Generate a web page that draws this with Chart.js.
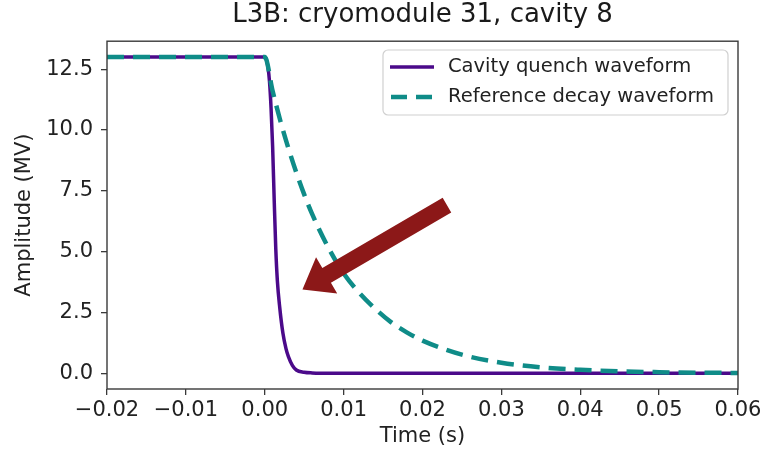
<!DOCTYPE html>
<html>
<head>
<meta charset="utf-8">
<script src="https://cdn.jsdelivr.net/npm/chart.js@4"></script>
<style>
  body { margin: 0; background: #fff; }
  #wrap { width: 766px; height: 450px; }
</style>
</head>
<body>
<div id="wrap"><canvas id="myChart" width="766" height="450"></canvas></div>
<script>
// values
const quenchTime = [-0.02, 0, 0.0002, 0.0004, 0.0006, 0.0008, 0.001, 0.0012, 0.0014, 0.0016, 0.0019, 0.0023, 0.0027, 0.003, 0.0035, 0.004, 0.005, 0.006, 0.007, 0.06];
const quenchAmp  = [13.0, 13.0, 12.9, 12.6, 12.0, 10.9, 9.3, 7.1, 5.1, 3.8, 2.7, 1.65, 1.0, 0.68, 0.32, 0.13, 0.04, 0.01, 0, 0];

const refTime = [-0.02, 0, 0.001, 0.002, 0.003, 0.004, 0.005, 0.006, 0.008, 0.010, 0.012, 0.014, 0.016, 0.018, 0.020, 0.025, 0.030, 0.035, 0.040, 0.045, 0.050, 0.055, 0.060];
const refAmp  = [13.0, 13.0, 11.6, 10.35, 9.25, 8.25, 7.35, 6.55, 5.2, 4.1, 3.3, 2.65, 2.1, 1.68, 1.34, 0.76, 0.43, 0.24, 0.14, 0.08, 0.04, 0.02, 0.01];

const xTicks = [-0.02, -0.01, 0, 0.01, 0.02, 0.03, 0.04, 0.05, 0.06];
const xTickLabels = ['\u22120.02', '\u22120.01', '0.00', '0.01', '0.02', '0.03', '0.04', '0.05', '0.06'];
const yTicks = [0, 2.5, 5, 7.5, 10, 12.5];
const yTickLabels = ['0.0', '2.5', '5.0', '7.5', '10.0', '12.5'];

const seriesNames = ['Cavity quench waveform', 'Reference decay waveform'];
const purple = '#4b0a8a';
const teal = '#0f8c88';
const FONT = 'DejaVu Sans';

const ctx = document.getElementById('myChart').getContext('2d');

// axes frame (all four spines)
const frame = {
  id: 'frame',
  afterDraw(chart) {
    const a = chart.chartArea, c = chart.ctx;
    c.save();
    c.strokeStyle = '#3a3a3a';
    c.lineWidth = 1.4;
    c.strokeRect(a.left, a.top, a.right - a.left, a.bottom - a.top);
    c.restore();
  }
};

// the red block arrow, placed in data coordinates
const arrow = {
  id: 'arrow',
  afterDatasetsDraw(chart) {
    const xs = chart.scales.x, ys = chart.scales.y, c = chart.ctx;
    const tx = xs.getPixelForValue(0.0231), ty = ys.getPixelForValue(6.91);
    const hx = xs.getPixelForValue(0.00478), hy = ys.getPixelForValue(3.44);
    const ang = Math.atan2(hy - ty, hx - tx);
    const len = Math.hypot(hx - tx, hy - ty);
    const shaft = 17, headW = 42, headL = 28;
    c.save();
    c.translate(tx, ty);
    c.rotate(ang);
    c.beginPath();
    c.moveTo(0, -shaft / 2);
    c.lineTo(len - headL, -shaft / 2);
    c.lineTo(len - headL, -headW / 2);
    c.lineTo(len, 0);
    c.lineTo(len - headL, headW / 2);
    c.lineTo(len - headL, shaft / 2);
    c.lineTo(0, shaft / 2);
    c.closePath();
    c.fillStyle = '#8c1818';
    c.fill();
    c.restore();
  }
};

// matplotlib style legend in the upper right
const boxLegend = {
  id: 'boxLegend',
  afterDraw(chart) {
    const c = chart.ctx;
    const x0 = 383, y0 = 50, w = 345, h = 65, r = 5;
    c.save();
    c.beginPath();
    c.roundRect(x0, y0, w, h, r);
    c.fillStyle = 'rgba(255,255,255,0.85)';
    c.fill();
    c.strokeStyle = '#d0d0d0';
    c.lineWidth = 1.2;
    c.stroke();
    c.font = '19.5px "' + FONT + '"';
    c.textBaseline = 'middle';
    c.fillStyle = '#222';
    const rows = [67, 97];
    // quench sample
    c.lineWidth = 3.5;
    c.strokeStyle = purple;
    c.beginPath(); c.moveTo(390, rows[0]); c.lineTo(434, rows[0]); c.stroke();
    // reference sample
    c.lineWidth = 4.5;
    c.strokeStyle = teal;
    c.setLineDash([16, 9]);
    c.beginPath(); c.moveTo(391, rows[1]); c.lineTo(434, rows[1]); c.stroke();
    c.setLineDash([]);
    c.fillText(seriesNames[0], 448, rows[0]);
    c.fillText(seriesNames[1], 448, rows[1]);
    c.restore();
  }
};

new Chart(ctx, {
  type: 'scatter',
  data: {
    datasets: [
      {
        label: seriesNames[0],
        data: quenchTime.map((t, i) => ({ x: t, y: quenchAmp[i] })),
        showLine: true,
        borderColor: purple,
        borderWidth: 3.5,
        pointRadius: 0,
        cubicInterpolationMode: 'monotone',
        order: 1
      },
      {
        label: seriesNames[1],
        data: refTime.map((t, i) => ({ x: t, y: refAmp[i] })),
        showLine: true,
        borderColor: teal,
        borderWidth: 4.5,
        borderDash: [17, 9],
        pointRadius: 0,
        cubicInterpolationMode: 'monotone',
        order: 0
      }
    ]
  },
  options: {
    responsive: false,
    animation: false,
    layout: { padding: { left: 0, right: 28, top: 0, bottom: 0 } },
    plugins: {
      legend: { display: false },
      tooltip: { enabled: false },
      title: {
        display: true,
        fullSize: false,
        text: 'L3B: cryomodule 31, cavity 8',
        color: '#1a1a1a',
        font: { family: FONT, size: 26, weight: 'normal' },
        padding: { top: 0, bottom: 10 }
      }
    },
    scales: {
      x: {
        type: 'linear',
        min: -0.02,
        max: 0.06,
        afterBuildTicks: s => { s.ticks = xTicks.map(v => ({ value: v })); },
        afterFit: s => { s.height = 61; },
        ticks: {
          autoSkip: false,
          maxRotation: 0,
          padding: 3,
          color: '#222',
          font: { family: FONT, size: 21 },
          callback: (v, i) => xTickLabels[i]
        },
        grid: { drawOnChartArea: false, drawTicks: true, tickLength: 6, color: '#3a3a3a', lineWidth: 1.3 },
        border: { display: false },
        title: {
          display: true,
          text: 'Time (s)',
          color: '#222',
          font: { family: FONT, size: 21 },
          padding: { top: 0, bottom: 1 }
        }
      },
      y: {
        min: -0.65,
        max: 13.65,
        afterBuildTicks: s => { s.ticks = yTicks.map(v => ({ value: v })); },
        afterFit: s => { s.width = 107; },
        ticks: {
          autoSkip: false,
          padding: 8,
          color: '#222',
          font: { family: FONT, size: 21 },
          callback: (v, i) => yTickLabels[i]
        },
        grid: { drawOnChartArea: false, drawTicks: true, tickLength: 6, color: '#3a3a3a', lineWidth: 1.3 },
        border: { display: false },
        title: {
          display: true,
          text: 'Amplitude (MV)',
          color: '#222',
          font: { family: FONT, size: 21 },
          padding: { top: 12, bottom: 0 }
        }
      }
    }
  },
  plugins: [frame, arrow, boxLegend]
});
</script>
</body>
</html>
